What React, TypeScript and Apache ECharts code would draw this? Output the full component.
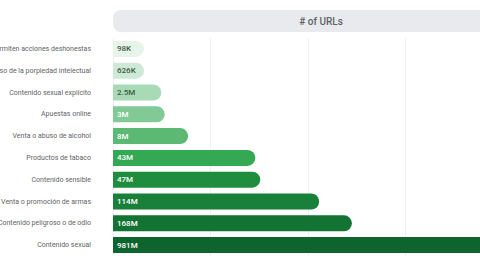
import React, { useEffect, useRef } from "react";
import * as echarts from "echarts";

// Categories, top to bottom
const categories = [
  "Permiten acciones deshonestas",
  "Abuso de la porpiedad intelectual",
  "Contenido sexual explícito",
  "Apuestas online",
  "Venta o abuso de alcohol",
  "Productos de tabaco",
  "Contenido sensible",
  "Venta o promoción de armas",
  "Contenido peligroso o de odio",
  "Contenido sexual",
];

// Number of URLs per category
const urlCounts = [98e3, 626e3, 2.5e6, 3e6, 8e6, 43e6, 47e6, 114e6, 168e6, 981e6];
const urlLabels = ["98K", "626K", "2.5M", "3M", "8M", "43M", "47M", "114M", "168M", "981M"];

// Bar fills, light to dark green
const barColors = [
  "#e6f4ea",
  "#ceead6",
  "#a8dab5",
  "#81c995",
  "#5bb974",
  "#34a853",
  "#1e8e3e",
  "#188038",
  "#137333",
  "#0d652d",
];
const labelColors = [
  "#3c5a45",
  "#3c5a45",
  "#3c5a45",
  "#ffffff",
  "#ffffff",
  "#ffffff",
  "#ffffff",
  "#ffffff",
  "#ffffff",
  "#ffffff",
];

const headerTitle = "# of URLs";

// Bar lengths use a compressed power scale so that the long tail still fits
const POWER = 0.38;
const scaled = (v: number) => Math.pow(v / 1e6, POWER);
const AXIS_MAX = 11.44;

export default function App() {
  const ref = useRef<HTMLDivElement>(null);

  useEffect(() => {
    if (!ref.current) return;
    const chart = echarts.init(ref.current, null, { renderer: "svg" });
    chart.setOption({
      animation: false,
      backgroundColor: "#ffffff",
      textStyle: { fontFamily: "Roboto" },
      graphic: [
        {
          type: "rect",
          z: 0,
          shape: { x: 113, y: 10, width: 400, height: 22, r: [8, 0, 0, 8] },
          style: { fill: "#e8eaed" },
        },
        {
          type: "text",
          z: 1,
          x: 321,
          y: 21,
          style: {
            text: headerTitle,
            fill: "#5f6368",
            font: "500 10px Roboto",
            align: "center",
            verticalAlign: "middle",
          },
        },
      ],
      grid: {
        left: 113,
        top: 38,
        width: 390,
        bottom: 14,
        containLabel: false,
        outerBoundsMode: "none",
      },
      xAxis: {
        type: "value",
        min: 0,
        max: AXIS_MAX,
        interval: AXIS_MAX / 4,
        axisLabel: { show: false },
        axisLine: { show: false },
        axisTick: { show: false },
        splitLine: { show: true, lineStyle: { color: "#f1f1f1", width: 1 } },
      },
      yAxis: {
        type: "category",
        inverse: true,
        data: categories,
        axisLine: { show: false },
        axisTick: { show: false },
        axisLabel: {
          margin: 22,
          fontSize: 7,
          color: "#5f6368",
          fontFamily: "Roboto",
        },
      },
      series: [
        {
          type: "bar",
          data: urlCounts.map((v, i) => ({
            value: scaled(v),
            itemStyle: { color: barColors[i], borderRadius: [0, 8, 8, 0] },
            label: { color: labelColors[i] },
          })),
          barWidth: 16,
          barMinHeight: 31,
          label: {
            show: true,
            position: "insideLeft",
            distance: 4,
            fontSize: 8,
            fontWeight: 500,
            fontFamily: "Roboto",
            formatter: (p: any) => urlLabels[p.dataIndex],
          },
        },
      ],
    });
    return () => chart.dispose();
  }, []);

  return (
    <div
      ref={ref}
      style={{ position: "fixed", left: 0, top: 0, width: 480, height: 270 }}
    />
  );
}
